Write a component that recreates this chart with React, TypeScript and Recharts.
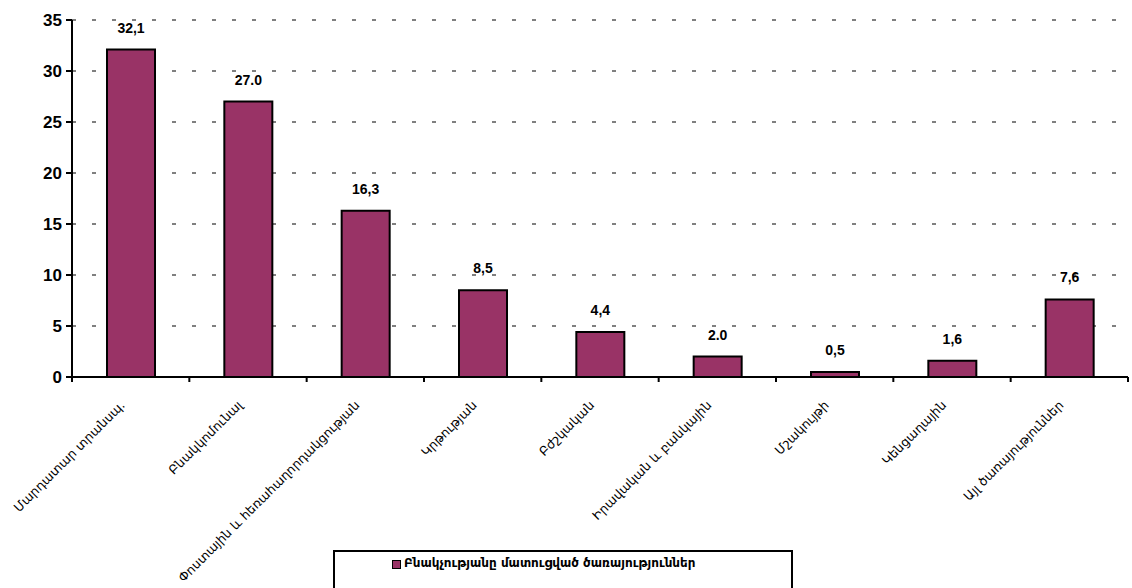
import React from "react";
import { BarChart, Bar, XAxis, YAxis, CartesianGrid, LabelList, Legend } from "recharts";

const categories = [
  "Մարդատար տրանսպ.",
  "Բնակկոմունալ",
  "Փոստային և հեռահաղորդակցության",
  "Կրթության",
  "Բժշկական",
  "Իրավական և բանկային",
  "Մշակույթի",
  "Կենցաղային",
  "Այլ ծառայություններ",
];
const values = [32.1, 27.0, 16.3, 8.5, 4.4, 2.0, 0.5, 1.6, 7.6];
const valueLabels = ["32,1", "27.0", "16,3", "8,5", "4,4", "2.0", "0,5", "1,6", "7,6"];
const yTicks = [0, 5, 10, 15, 20, 25, 30, 35];
const seriesName = "Բնակչությանը մատուցված ծառայություններ";

const data = categories.map((c, i) => ({ name: c, value: values[i], label: valueLabels[i] }));

const FONT = "'Liberation Sans', Arial, 'DejaVu Sans', sans-serif";
const ARM_FONT = "'DejaVu Sans', 'Noto Sans', sans-serif";

const W = 1132;
const H = 588;
const M = { top: 20, right: 4, left: 0, bottom: 0 };
const PLOT_LEFT = 72;
const BAND = (W - M.right - PLOT_LEFT) / categories.length;

const XTick = (props: any) => {
  const { x, y, payload, index } = props;
  const half = BAND / 2;
  const tx = x - 5;
  const ty = y + 21;
  return (
    <g>
      <line x1={x - half} y1={y - 8} x2={x - half} y2={y - 3} stroke="#000" strokeWidth={2} />
      {index === categories.length - 1 && (
        <line x1={x + half} y1={y - 8} x2={x + half} y2={y - 3} stroke="#000" strokeWidth={2} />
      )}
      <text
        x={tx}
        y={ty}
        textAnchor="end"
        transform={`rotate(-45, ${tx}, ${ty})`}
        fontSize={12.5}
        fontFamily={ARM_FONT}
        fill="#000"
      >
        {payload.value}
      </text>
    </g>
  );
};

const YTick = (props: any) => {
  const { x, y, payload } = props;
  return (
    <text
      x={x - 2}
      y={y}
      dy={6}
      textAnchor="end"
      fontSize={17}
      fontWeight="bold"
      fontFamily={FONT}
      fill="#000"
    >
      {payload.value}
    </text>
  );
};

const LegendContent = () => (
  <div
    style={{
      width: 460,
      height: 44,
      border: "2px solid #000",
      boxSizing: "border-box",
      display: "flex",
      alignItems: "flex-start",
      justifyContent: "flex-start",
      paddingTop: 4,
      paddingLeft: 57,
      fontFamily: ARM_FONT,
      fontSize: 12,
      fontWeight: "bold",
      color: "#000",
    }}
  >
    <span
      style={{
        display: "inline-block",
        width: 7,
        height: 7,
        background: "#993366",
        border: "1px solid #000",
        marginRight: 3,
        marginTop: 4,
      }}
    />
    <span>{seriesName}</span>
  </div>
);

export default function App() {
  return (
    <div style={{ position: "absolute", left: 0, top: 0, width: W, height: H, background: "#fff", overflow: "hidden" }}>
      <BarChart width={W} height={H} data={data} margin={M} barSize={48}>
        <CartesianGrid
          horizontal
          vertical={false}
          stroke="#000"
          strokeDasharray="4 16"
          strokeWidth={1}
        />
        <XAxis
          dataKey="name"
          interval={0}
          tickLine={false}
          axisLine={{ stroke: "#000", strokeWidth: 2 }}
          tick={<XTick />}
          height={167}
        />
        <YAxis
          domain={[0, 35]}
          ticks={yTicks}
          width={72}
          axisLine={{ stroke: "#000", strokeWidth: 2 }}
          tickLine={{ stroke: "#000", strokeWidth: 2 }}
          tickSize={6}
          tick={<YTick />}
          interval={0}
        />
        <Legend
          content={<LegendContent />}
          wrapperStyle={{ position: "absolute", left: 333, top: 550, width: 460, bottom: "auto" }}
        />
        <Bar
          dataKey="value"
          name={seriesName}
          fill="#993366"
          stroke="#000"
          strokeWidth={2}
          isAnimationActive={false}
        >
          <LabelList
            dataKey="label"
            position="top"
            offset={17}
            fill="#000"
            fontSize={14}
            fontWeight="bold"
            fontFamily={FONT}
          />
        </Bar>
      </BarChart>
    </div>
  );
}
